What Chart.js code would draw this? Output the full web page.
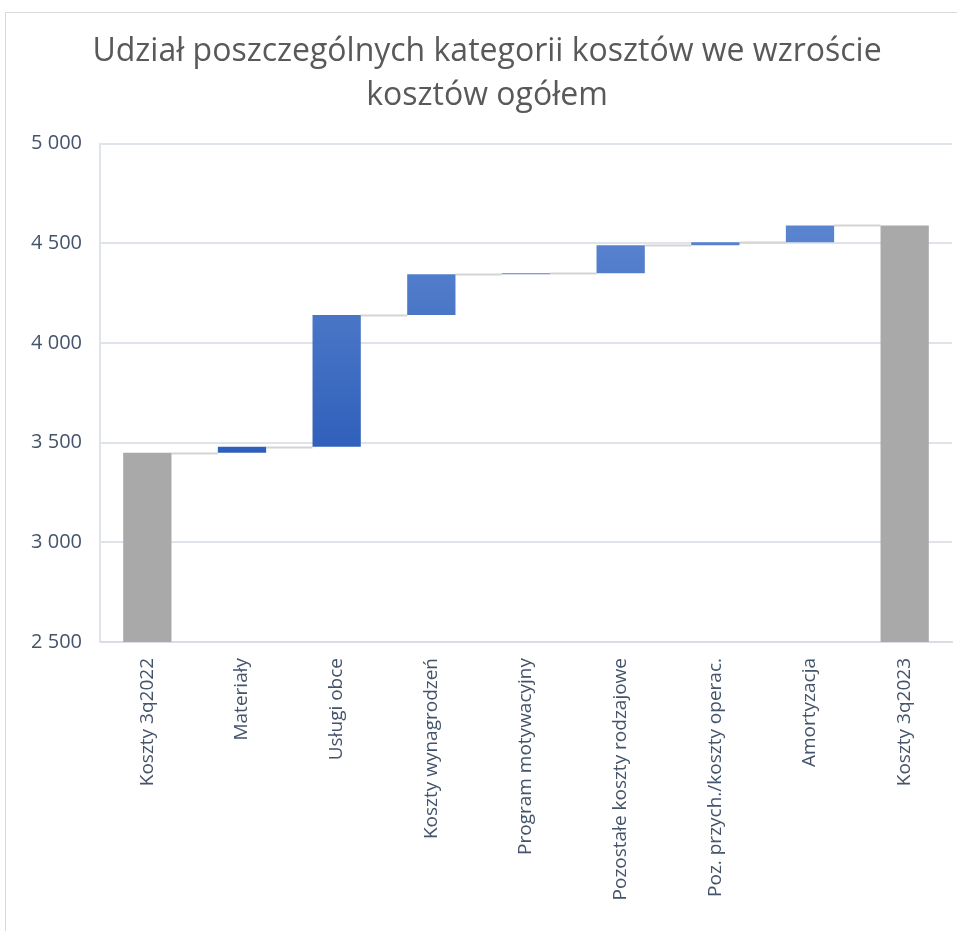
<!DOCTYPE html>
<html>
<head>
<meta charset="utf-8">
<script src="https://cdn.jsdelivr.net/npm/chart.js@4/dist/chart.umd.min.js"></script>
<style>
  html, body { margin: 0; padding: 0; background: #fff; }
  #wrap { width: 957px; height: 931px; position: relative; }
</style>
</head>
<body>
<div id="wrap"><canvas id="costChart" width="957" height="931"></canvas></div>
<script>
// Categories and values
const categories = [
  'Koszty 3q2022',
  'Materiały',
  'Usługi obce',
  'Koszty wynagrodzeń',
  'Program motywacyjny',
  'Pozostałe koszty rodzajowe',
  'Poz. przych./koszty operac.',
  'Amortyzacja',
  'Koszty 3q2023'
];
const startTotal = 3450;
const changes = [30, 660, 205, 5, 140, 15, 85];
const endTotal = 4590;
const yTicks = [2500, 3000, 3500, 4000, 4500, 5000];

// Build floating bars [low, high] and the running levels for connectors
function buildWaterfall() {
  const bars = [[0, startTotal]];
  const levels = [startTotal];
  let running = startTotal;
  for (const c of changes) {
    bars.push([running, running + c]);
    running += c;
    levels.push(running);
  }
  bars.push([0, endTotal]);
  levels.push(endTotal);
  return { bars, levels };
}
const { bars, levels } = buildWaterfall();
const isTotal = (i) => i === 0 || i === categories.length - 1;

// Gray connector lines between neighbouring bars
const connectorPlugin = {
  id: 'connectors',
  beforeDatasetsDraw(chart) {
    const meta = chart.getDatasetMeta(0);
    const y = chart.scales.y;
    const ctx = chart.ctx;
    ctx.save();
    ctx.strokeStyle = '#d4d4d4';
    ctx.lineWidth = 2;
    for (let i = 0; i < meta.data.length - 1; i++) {
      const a = meta.data[i];
      const b = meta.data[i + 1];
      const py = Math.round(y.getPixelForValue(levels[i])) + 0.5;
      ctx.beginPath();
      ctx.moveTo(a.x + a.width / 2, py);
      ctx.lineTo(b.x - b.width / 2, py);
      ctx.stroke();
    }
    ctx.restore();
  }
};

// Light frame around the whole chart, as in the reference
const framePlugin = {
  id: 'frame',
  beforeDraw(chart) {
    const ctx = chart.ctx;
    ctx.save();
    ctx.fillStyle = '#ffffff';
    ctx.fillRect(0, 0, chart.width, chart.height);
    ctx.strokeStyle = '#d9d9d9';
    ctx.lineWidth = 1;
    ctx.strokeRect(5.5, 12.5, chart.width + 10, chart.height + 10);
    ctx.restore();
  }
};

function barColor(context) {
  const i = context.dataIndex;
  if (isTotal(i)) return '#a9a9a9';
  const area = context.chart.chartArea;
  if (!area) return '#4472c4';
  const g = context.chart.ctx.createLinearGradient(0, area.top, 0, area.bottom);
  g.addColorStop(0, '#6b92d7');
  g.addColorStop(1, '#0a40a8');
  return g;
}

const fmt = (v) => String(v).replace(/\B(?=(\d{3})+(?!\d))/g, ' ');

new Chart(document.getElementById('costChart'), {
  type: 'bar',
  data: {
    labels: categories,
    datasets: [{
      data: bars,
      backgroundColor: barColor,
      borderWidth: 0,
      barPercentage: 0.51,
      categoryPercentage: 1.0
    }]
  },
  options: {
    responsive: false,
    animation: false,
    layout: { padding: { left: 22, right: 5, top: 0, bottom: 0 } },
    plugins: {
      legend: { display: false },
      tooltip: { enabled: false },
      title: {
        display: true,
        text: ['Udział poszczególnych kategorii kosztów we wzroście', 'kosztów ogółem'],
        color: '#595959',
        font: { family: '"Open Sans", sans-serif', size: 32, weight: 'normal', lineHeight: 1.37 },
        padding: { top: 30, bottom: 26 }
      }
    },
    scales: {
      x: {
        grid: { display: false },
        border: { color: '#d9dee6', width: 2 },
        ticks: {
          color: '#44546a',
          font: { family: '"Open Sans", sans-serif', size: 19 },
          minRotation: 90,
          maxRotation: 90,
          autoSkip: false,
          padding: 8
        },
        afterFit(scale) { scale.height = 289; }
      },
      y: {
        min: 2500,
        max: 5000,
        afterBuildTicks(scale) { scale.ticks = yTicks.map((v) => ({ value: v })); },
        grid: { color: '#dfe3ea', lineWidth: 2, drawTicks: false },
        border: { color: '#dfe3ea', width: 2 },
        ticks: {
          color: '#44546a',
          font: { family: '"Open Sans", sans-serif', size: 20 },
          padding: 18,
          callback: (v) => fmt(v)
        },
        afterFit(scale) { scale.width = 78; }
      }
    }
  },
  plugins: [framePlugin, connectorPlugin]
});
</script>
</body>
</html>
